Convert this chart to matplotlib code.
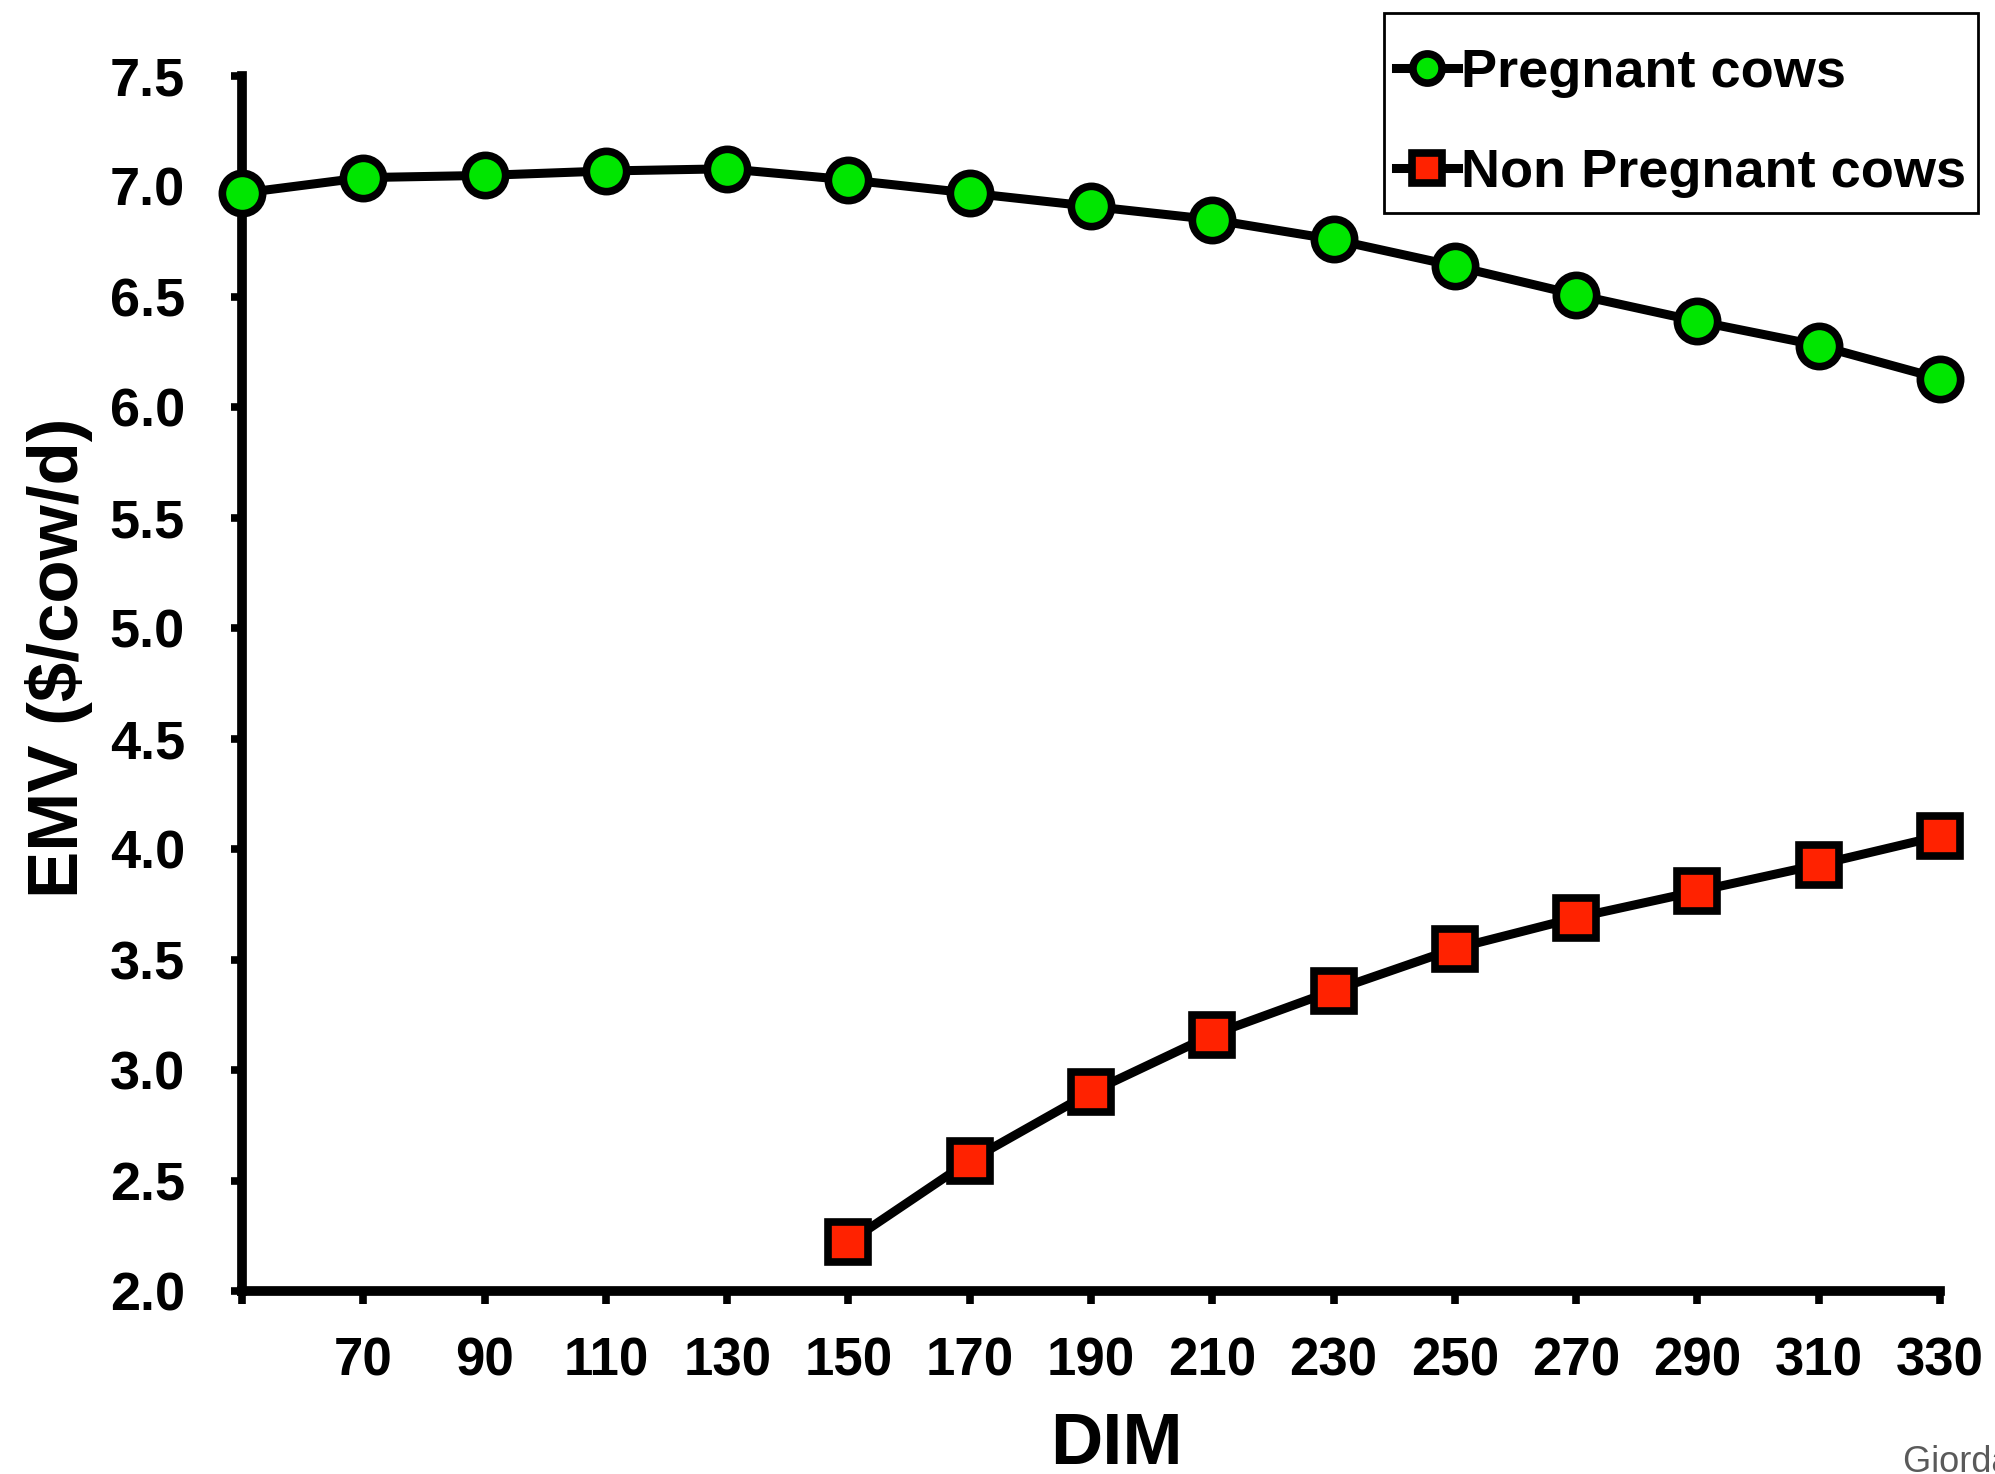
import matplotlib
matplotlib.use("Agg")
import matplotlib.pyplot as plt
from matplotlib.lines import Line2D
from matplotlib.patches import Rectangle

plt.rcParams['font.family'] = ['Liberation Sans', 'DejaVu Sans']
plt.rcParams['font.weight'] = 'bold'

dim_preg = [50, 70, 90, 110, 130, 150, 170, 190, 210, 230, 250, 270, 290, 310, 330]
emv_preg = [6.97, 7.04, 7.05, 7.07, 7.08, 7.03, 6.97, 6.91, 6.85, 6.76, 6.64, 6.51, 6.39, 6.28, 6.13]
dim_open = [150, 170, 190, 210, 230, 250, 270, 290, 310, 330]
emv_open = [2.22, 2.59, 2.90, 3.16, 3.36, 3.55, 3.69, 3.81, 3.93, 4.06]
xticks = [50, 70, 90, 110, 130, 150, 170, 190, 210, 230, 250, 270, 290, 310, 330]
xticklabels = [""] + [str(v) for v in xticks[1:]]
yticks = [2.0, 2.5, 3.0, 3.5, 4.0, 4.5, 5.0, 5.5, 6.0, 6.5, 7.0, 7.5]
labels = ["Pregnant cows", "Non Pregnant cows"]

W, H = 1995, 1474
fig = plt.figure(figsize=(W / 100, H / 100), dpi=100)
ax = fig.add_axes([242 / W, 1 - 1291 / H, (1940 - 242) / W, (1291 - 76) / H])

green = '#00e600'
red = '#ff2200'
ax.plot(dim_preg, emv_preg, color='black', lw=6.5, marker='o', ms=29,
        mfc=green, mec='black', mew=5.5, clip_on=False, zorder=3)
ax.plot(dim_open, emv_open, color='black', lw=6.5, marker='s', ms=29,
        mfc=red, mec='black', mew=5.5, clip_on=False, zorder=3)

ax.set_xlim(50, 330)
ax.set_ylim(2.0, 7.5)
ax.set_xticks(xticks)
ax.set_xticklabels(xticklabels)
ax.set_yticks(yticks)
ax.set_yticklabels([f"{v:.1f}" for v in yticks])

for s in ['top', 'right']:
    ax.spines[s].set_visible(False)
for s in ['left', 'bottom']:
    ax.spines[s].set_linewidth(7)
    ax.spines[s].set_color('black')

ax.tick_params(axis='x', direction='out', length=9, width=5.5, pad=24, labelsize=38)
ax.tick_params(axis='y', direction='out', length=8, width=5.5, pad=33, labelsize=39)
for t in ax.get_xticklabels() + ax.get_yticklabels():
    t.set_fontweight('bold')

ax.set_xlabel("DIM", fontsize=52, fontweight='bold')
ax.xaxis.label.set_va('center')
ax.xaxis.set_label_coords(0.515, -0.127)
ax.set_ylabel("EMV ($/cow/d)", fontsize=51, fontweight='bold')
ax.yaxis.label.set_va('center')
ax.yaxis.set_label_coords(-0.108, 0.521)

# legend frame drawn as a figure-level rectangle
fig.patches.append(Rectangle((1384 / W, 1 - 213 / H), (1978 - 1384) / W, (213 - 13) / H,
                             transform=fig.transFigure, fill=False, edgecolor='black',
                             linewidth=2, zorder=5))
handles = [
    Line2D([], [], color='black', lw=6.5, marker='o', ms=21, mfc=green, mec='black', mew=5.5),
    Line2D([], [], color='black', lw=6.5, marker='s', ms=21, mfc=red, mec='black', mew=5.5),
]
leg = fig.legend(handles, labels, loc='upper left', bbox_to_anchor=(1396 / W, 1 - 48 / H),
                 frameon=False, prop={'size': 39, 'weight': 'bold'}, borderpad=0,
                 handletextpad=0.05, handlelength=1.15, labelspacing=0.92, borderaxespad=0)

fig.text(1903 / W, 1 - 1445 / H, "Giordano et al.", color='#5a5a5a', fontsize=26,
         fontweight='normal', ha='left', va='top')

fig.savefig("out.png", dpi=100)
